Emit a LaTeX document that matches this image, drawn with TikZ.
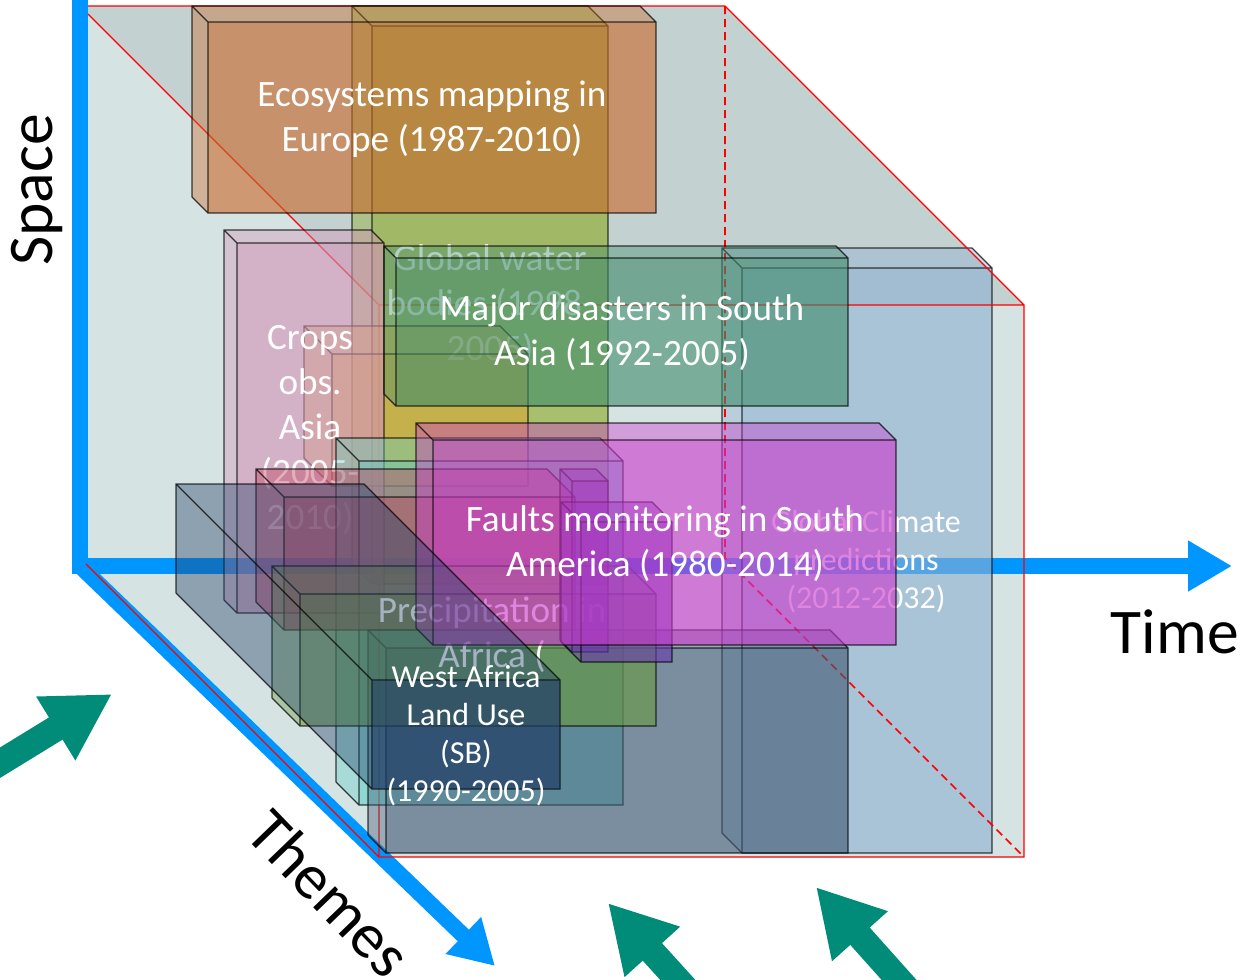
\documentclass[tikz,border=0pt]{standalone}
\usepackage{fontspec}
\setmainfont{Carlito}
\usetikzlibrary{arrows.meta}
\definecolor{axisblue}{HTML}{0096FF}
\definecolor{arrowteal}{HTML}{008C78}
\definecolor{cubepale}{HTML}{D6E3E3}
\definecolor{cubedark}{HTML}{C4D1D1}
\definecolor{ecobrown}{HTML}{C86A2A}
\definecolor{watergreen}{HTML}{8CAA24}
\definecolor{croppink}{HTML}{D393B7}
\definecolor{croporange}{HTML}{D8A838}
\definecolor{climateblue}{HTML}{8EB0D1}
\definecolor{disastergreen}{HTML}{408C6C}
\definecolor{faultmagenta}{HTML}{CC37CE}
\definecolor{landslate}{HTML}{224068}
\definecolor{deepslate}{HTML}{405975}
\definecolor{lightteal}{HTML}{63D1C8}
\definecolor{rainolive}{HTML}{6A9A40}
\definecolor{dullred}{HTML}{C03A5A}
\definecolor{violet}{HTML}{6A3AB0}

% cuboid: front face x1,y1,x2,y2, depth, colour
\newcommand{\cuboid}[6]{%
  \fill[#6, fill opacity=0.4] (#1-#5,#2-#5) -- (#3-#5,#2-#5) -- (#3,#2) -- (#3,#4) -- (#1,#4) -- (#1-#5,#4-#5) -- cycle;
  \fill[#6, fill opacity=0.35] (#1,#2) rectangle (#3,#4);
  \draw[boxedge] (#1,#2) rectangle (#3,#4)
    (#1-#5,#4-#5) -- (#1-#5,#2-#5) -- (#3-#5,#2-#5) -- (#3,#2)
    (#1-#5,#2-#5) -- (#1,#2)
    (#1-#5,#4-#5) -- (#1,#4);
}

\begin{document}
\begin{tikzpicture}[
    x=0.5pt, y=-0.5pt,
    boxedge/.style={draw=black, draw opacity=0.75, line width=0.55pt},
    cubeline/.style={draw=red, line width=0.6pt},
    axisline/.style={draw=axisblue, line width=8pt, line join=miter, -{Triangle[length=22pt,width=24pt]}},
    bigarrow/.style={draw=arrowteal, line width=13pt, -{Triangle[length=33pt,width=35pt]}},
    boxtext/.style={text=white, align=center, inner sep=0pt, font=\fontsize{18.6}{22.5}\selectfont},
    smalltext/.style={boxtext, font=\fontsize{16}{19}\selectfont},
    axistext/.style={font=\fontsize{31.8}{36}\selectfont}
]
\useasboundingbox (0,0) rectangle (1248,980);

% Cube
\fill[cubepale] (80,6) -- (725,6) -- (1024,305) -- (1024,857) -- (379,857) -- (80,558) -- cycle;
\fill[cubedark] (80,6) -- (725,6) -- (1024,305) -- (379,305) -- cycle;

% Axes
\draw[axisline] (80,0) -- (80,566) -- (1232,566);
\draw[axisline] (80,566) -- (495,966);
\node[axistext, rotate=90] (space) at (37,190) {Space};
\node[axistext] (time) at (1175,632) {Time};
\node[axistext, rotate=-46] (themes) at (330,893) {Themes};

% Data boxes
\cuboid{742}{268}{992}{853}{20}{climateblue}
\node[smalltext] (climate) at (866,562) {Global Climate\\predictions\\(2012-2032)};
\draw[cubeline] (88,6) -- (725,6) -- (1024,305) (379,305) rectangle (1024,857)
  (88,14) -- (379,305) (86,564) -- (379,857);
\draw[cubeline, dashed, dash pattern=on 4pt off 2.5pt, line width=0.8pt] (725,6) -- (725,558) -- (1024,857);
\cuboid{372}{26}{608}{584}{20}{watergreen}
\node[boxtext] (water) at (490,305) {Global water\\bodies (1998-\\2005)};
\cuboid{208}{22}{656}{213}{16}{ecobrown}
\node[boxtext] (eco) at (432,119) {Ecosystems mapping in\\Europe (1987-2010)};
\cuboid{332}{354}{528}{486}{28}{croporange}
\cuboid{237}{243}{384}{613}{13}{croppink}
\node[boxtext] (crops) at (310,430) {Crops\\obs.\\Asia\\(2005-\\2010)};
\cuboid{359}{461}{623}{805}{23}{lightteal}
\cuboid{284}{497}{575}{630}{28}{dullred}
\cuboid{386}{648}{848}{853}{18}{deepslate}
\cuboid{300}{594}{656}{726}{28}{rainolive}
\node[boxtext] (rain) at (492,635) {Precipitation in\\Africa (};
\cuboid{396}{258}{848}{406}{12}{disastergreen}
\node[boxtext] (disaster) at (622,333) {Major disasters in South\\Asia (1992-2005)};
\cuboid{572}{481}{608}{652}{12}{violet}
\cuboid{581}{522}{672}{662}{20}{violet}
\cuboid{433}{440}{896}{645}{17}{faultmagenta}
\node[boxtext] (faults) at (665,544) {Faults monitoring in South\\America (1980-2014)};
\cuboid{372}{680}{560}{789}{196}{landslate}
\fill[landslate, fill opacity=0.3] (372,680) rectangle (560,789);
\node[smalltext] (landuse) at (466,736) {West Africa\\Land Use\\(SB)\\(1990-2005)};

% Arrows
\coordinate (leftfrom) at (-20,775);
\coordinate (leftto) at (112,694);
\coordinate (midfrom) at (696,1000);
\coordinate (midto) at (608,903);
\coordinate (rightfrom) at (917,1000);
\coordinate (rightto) at (816,887);
\draw[bigarrow] (leftfrom) -- (leftto);
\draw[bigarrow] (midfrom) -- (midto);
\draw[bigarrow] (rightfrom) -- (rightto);
\end{tikzpicture}
\end{document}
